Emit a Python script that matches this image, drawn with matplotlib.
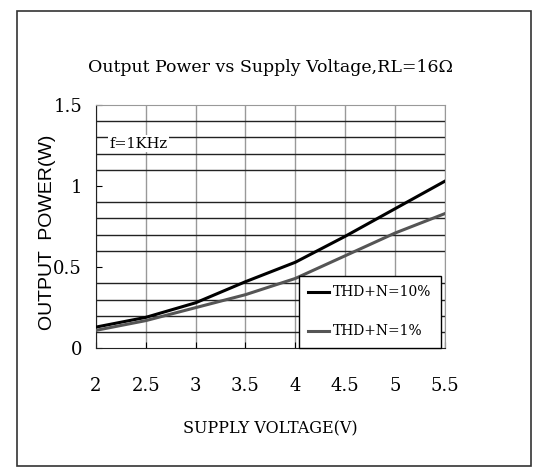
import numpy as np
import matplotlib.pyplot as plt
from matplotlib.patches import Rectangle

# datos
voltaje = [2.0, 2.5, 3.0, 3.5, 4.0, 4.5, 5.0, 5.5]
thd_10 = [0.13, 0.19, 0.28, 0.41, 0.53, 0.69, 0.86, 1.03]
thd_1 = [0.11, 0.17, 0.25, 0.33, 0.43, 0.57, 0.71, 0.83]
xticks = [2, 2.5, 3, 3.5, 4, 4.5, 5, 5.5]
xtick_labels = ["2", "2.5", "3", "3.5", "4", "4.5", "5", "5.5"]
yticks = [0, 0.5, 1, 1.5]
ytick_labels = ["0", "0.5", "1", "1.5"]

serif = "DejaVu Serif"

fig = plt.figure(figsize=(5.36, 4.75), dpi=100)
ax = fig.add_axes([0.179, 0.267, 0.651, 0.512])

# marco exterior
fig.patches.append(Rectangle((0.032, 0.019), 0.958, 0.958, transform=fig.transFigure,
                             fill=False, edgecolor="#333333", linewidth=1.2))

ax.plot(voltaje, thd_10, color="black", linewidth=2.2, label="THD+N=10%", zorder=3)
ax.plot(voltaje, thd_1, color="#555555", linewidth=2.2, label="THD+N=1%", zorder=3)

ax.set_xlim(2, 5.5)
ax.set_ylim(0, 1.5)
ax.set_xticks(xticks)
ax.set_xticklabels(xtick_labels, family=serif, fontsize=13)
ax.set_yticks(yticks)
ax.set_yticklabels(ytick_labels, family=serif, fontsize=13)
ax.set_yticks(np.arange(0, 1.51, 0.1), minor=True)
ax.tick_params(axis="both", which="major", direction="in", length=4)
ax.tick_params(axis="x", pad=21)
ax.tick_params(axis="y", pad=10)
ax.tick_params(axis="y", which="minor", length=0)

# rejilla
ax.grid(axis="y", which="minor", color="#222222", linewidth=1.0)
ax.grid(axis="x", which="major", color="#999999", linewidth=1.0)
ax.set_axisbelow(True)
ax.spines["top"].set_color("#999999")
ax.spines["right"].set_color("#999999")
ax.spines["left"].set_color("#222222")
ax.spines["bottom"].set_color("#222222")

ax.set_title("Output Power vs Supply Voltage,RL=16\u03a9", family=serif, fontsize=12.5, pad=24)
ax.set_xlabel("SUPPLY VOLTAGE(V)", family=serif, fontsize=11.5, labelpad=18)
ax.set_ylabel("OUTPUT  POWER(W)", family="Liberation Sans", fontsize=14)
ax.yaxis.set_label_coords(-0.115, 0.477)
ax.text(0.04, 0.84, "f=1KHz", transform=ax.transAxes, va="center", family=serif, fontsize=10.5,
        bbox=dict(facecolor="white", edgecolor="none", pad=1))

leg = ax.legend(loc="lower right", bbox_to_anchor=(0.988, 0.0), borderaxespad=0,
                fancybox=False, edgecolor="black", framealpha=1, handlelength=1.5,
                labelspacing=1.8, handletextpad=0.25, borderpad=0.7,
                prop=dict(family=serif, size=10))
leg.get_frame().set_linewidth(1.0)

plt.savefig("out.png", dpi=100)
